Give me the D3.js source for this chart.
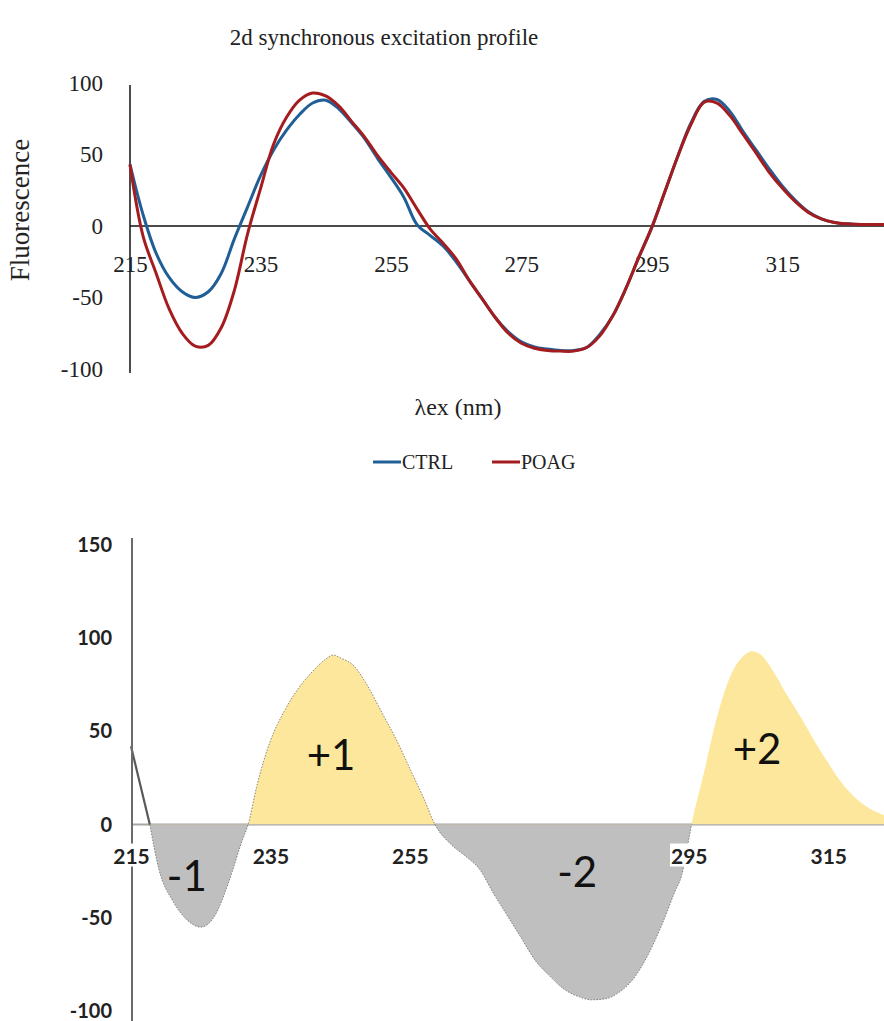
<!DOCTYPE html>
<html><head><meta charset="utf-8">
<script src="https://cdn.jsdelivr.net/npm/d3@7"></script>
<style>body{margin:0;background:#fff}</style>
</head><body>
<svg id="c" width="884" height="1021"></svg>
<script>
// ---- top chart data (λex in nm, fluorescence) ----
const wavelengths = [215,217,219,221,223,225,227,229,231,233,235,237,239,241,243,245,247,249,251,253,255,257,259,261,263,265,267,269,271,273,275,277,279,281,283,285,287,289,291,293,295,297,299,301,303,305,307,309,311,313,315,317,319,321,323,325,327,329,331];
const ctrl = [43,8,-19,-36,-46,-50,-46,-33,-9,13,35,53,67,78,86,88,82,72,61,47,34,20,1,-6.5,-14,-25,-38,-51,-64,-74,-81,-84.5,-86,-87,-87,-85,-76,-63,-44,-22,-1,24,49,72,87,88.5,80,66,53,40,28,18,10,5,2.5,1.5,1,1,1];
const poag = [43,-7,-33,-58,-75,-84,-83.5,-71,-45,-6,26,57,76,88,93,91,84,73,62,49,37.5,26.5,12,-2,-12,-23,-38,-51,-64,-75,-82,-85.5,-87,-87.5,-87.5,-85,-77,-63,-44,-22,-1,24,49,71,86.5,86,77,64,51,37.5,26.5,17,9.5,5,2.5,1.5,1,1,1];
const seriesNames = ["CTRL","POAG"];
const topXTicks = [215,235,255,275,295,315];
const topYTicks = [-100,-50,0,50,100];

// ---- bottom chart data ----
const bottomWl = [215,217.7,219,221,223,225,227,229,231,231.8,233,235,237,239,241,243,244,245,247,249,251,253,255,257,258.6,261,263,265,267,269,271,273,275,277,279,281,283,285,287,289,291,293,294,295,295.4,297,299,301,303,304,305,307,309,311,313,315,317,319,321,323];
const bottomVal = [42,0,-24,-41,-51,-55,-49,-31,-8,0,20,45,61,73,82,89,91,89.5,85,74,60,46,30,14,0,-11,-17,-24,-37,-49,-61,-73,-81,-88,-92,-94,-93.5,-90,-83,-71,-55,-36,-27,-8,0,25,57,80,91,93,92,83,70,58,45,33,22,14,8.5,5];
const bottomXTicks = [215,235,255,295,315];
const bottomYTicks = [-100,-50,0,50,100,150];
const peakLabels = ["-1","+1","-2","+2"];
const peakLabelX = [223,243.7,279,304.8];
const peakLabelY = [-27,38,-25,41];

const svg = d3.select("#c");
const serif = "'Liberation Serif', serif";
const sans = "Lato, 'Open Sans', sans-serif";
const colors = ["#1f5f96","#a51c1f"];
const fmt = d => String(d);

// ================= TOP CHART =================
const x1 = d3.scaleLinear().domain([215, 330.6]).range([130, 884]);
const y1 = d3.scaleLinear().domain([-100, 100]).range([369, 83]);

svg.append("text").attr("x", 384).attr("y", 45).attr("text-anchor","middle")
  .attr("font-family", serif).attr("font-size", 23).attr("fill","#222")
  .text("2d synchronous excitation profile");

// y axis
const ya1 = svg.append("g").attr("transform","translate(130,0)")
  .call(d3.axisLeft(y1).tickValues(topYTicks).tickSize(0).tickPadding(27).tickFormat(fmt));
ya1.select(".domain").remove();
ya1.selectAll("text").attr("font-family", serif).attr("font-size", 23).attr("fill","#222");
svg.append("line").attr("x1",130).attr("x2",130).attr("y1",y1(100)+2).attr("y2",y1(-100)+4)
  .attr("stroke","#111").attr("stroke-width",1.5);

// x axis at zero
const xa1 = svg.append("g").attr("transform",`translate(0,${y1(0)})`)
  .call(d3.axisBottom(x1).tickValues(topXTicks).tickSize(0).tickPadding(30).tickFormat(fmt));
xa1.select(".domain").remove();
xa1.selectAll("text").attr("font-family", serif).attr("font-size", 23).attr("fill","#222");
svg.append("line").attr("x1",130).attr("x2",884).attr("y1",y1(0)).attr("y2",y1(0))
  .attr("stroke","#111").attr("stroke-width",1.5);

const line1 = d3.line().x((d,i)=>x1(wavelengths[i])).y(d=>y1(d)).curve(d3.curveCatmullRom.alpha(0.5));
[ctrl, poag].forEach((s,k)=>{
  svg.append("path").attr("d", line1(s)).attr("fill","none")
    .attr("stroke", colors[k]).attr("stroke-width", 3).attr("stroke-linejoin","round");
});

svg.append("text").attr("x", 23).attr("y", 210).attr("transform","rotate(-90,23,210)")
  .attr("text-anchor","middle").attr("dominant-baseline","middle")
  .attr("font-family", serif).attr("font-size", 27).attr("fill","#222").text("Fluorescence");

svg.append("text").attr("x", 458).attr("y", 415).attr("text-anchor","middle")
  .attr("font-family", serif).attr("font-size", 24).attr("fill","#222").text("λex (nm)");

// legend
const legX = [373, 492];
seriesNames.forEach((n,k)=>{
  svg.append("line").attr("x1",legX[k]).attr("x2",legX[k]+28).attr("y1",462).attr("y2",462)
    .attr("stroke",colors[k]).attr("stroke-width",3);
  svg.append("text").attr("x",legX[k]+29).attr("y",469).attr("font-family",serif)
    .attr("font-size",20).attr("fill","#222").text(n);
});

// ================= BOTTOM CHART =================
const x2 = d3.scaleLinear().domain([215, 323]).range([131, 884]);
const y2 = d3.scaleLinear().domain([-100, 150]).range([1011, 545]);

// zero line
svg.append("line").attr("x1",132).attr("x2",884).attr("y1",y2(0)).attr("y2",y2(0))
  .attr("stroke","#a6a6a6").attr("stroke-width",2);

const defs = svg.append("defs");
defs.append("clipPath").attr("id","pos").append("rect")
  .attr("x",0).attr("y",0).attr("width",884).attr("height",y2(0));
defs.append("clipPath").attr("id","neg").append("rect")
  .attr("x",0).attr("y",y2(0)).attr("width",884).attr("height",1021-y2(0));

const areaData = bottomVal.map((v,i)=>({x:bottomWl[i], v})).slice(1);
const area2 = d3.area().x(d=>x2(d.x)).y0(y2(0)).y1(d=>y2(d.v)).curve(d3.curveMonotoneX);
svg.append("path").attr("d", area2(areaData)).attr("fill","#fde79c").attr("clip-path","url(#pos)");
svg.append("path").attr("d", area2(areaData)).attr("fill","#bfbfbf").attr("clip-path","url(#neg)");

// dotted outline along the edge
const edge = d3.line().x(d=>x2(d.x)).y(d=>y2(d.v)).curve(d3.curveMonotoneX);
svg.append("path").attr("d", edge(areaData.filter(d=>d.x<=295.4)))
  .attr("fill","none").attr("stroke","#555").attr("stroke-width",1).attr("stroke-dasharray","1.5,1.5").attr("opacity",0.7);

// first straight segment
svg.append("line").attr("x1",x2(bottomWl[0])).attr("y1",y2(bottomVal[0]))
  .attr("x2",x2(bottomWl[1])).attr("y2",y2(bottomVal[1]))
  .attr("stroke","#595959").attr("stroke-width",2.2);

// y axis
const ya2 = svg.append("g").attr("transform","translate(132,0)")
  .call(d3.axisLeft(y2).tickValues(bottomYTicks).tickSize(0).tickPadding(20).tickFormat(fmt));
ya2.select(".domain").remove();
ya2.selectAll("text").attr("font-family", sans).attr("font-weight","bold").attr("font-size", 20).attr("fill","#222");
svg.append("line").attr("x1",132).attr("x2",132).attr("y1",538).attr("y2",1021)
  .attr("stroke","#6b6b6b").attr("stroke-width",2);

// x tick labels with white boxes
const xa2 = svg.append("g").attr("transform",`translate(0,${y2(0)})`)
  .call(d3.axisBottom(x2).tickValues(bottomXTicks).tickSize(0).tickPadding(24).tickFormat(fmt));
xa2.select(".domain").remove();
xa2.selectAll("text").attr("font-family", sans).attr("font-weight","bold").attr("font-size", 21).attr("fill","#222");
xa2.selectAll(".tick").each(function(){
  const t = d3.select(this).select("text");
  const b = t.node().getBBox();
  d3.select(this).insert("rect","text").attr("x",b.x-1).attr("y",b.y+1).attr("width",b.width+2).attr("height",b.height-2).attr("fill","#fff");
});

// region labels
peakLabels.forEach((t,i)=>{
  svg.append("text").attr("x", x2(peakLabelX[i])).attr("y", y2(peakLabelY[i]))
    .attr("text-anchor","middle").attr("dominant-baseline","central")
    .attr("font-family", sans).attr("font-size", 42).attr("fill","#111").text(t);
});
</script>
</body></html>
